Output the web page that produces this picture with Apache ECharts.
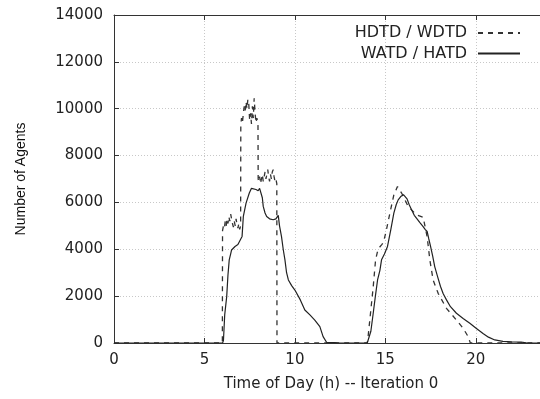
<!DOCTYPE html>
<html>
<head>
<meta charset="utf-8">
<script src="https://cdn.jsdelivr.net/npm/echarts@6/dist/echarts.min.js"></script>
<style>
html,body{margin:0;padding:0;background:#fff;overflow:hidden;}
#chart{width:540px;height:399px;}
</style>
</head>
<body>
<div id="chart"></div>
<script>
// Time of day (h) and number of agents
var hdtdTime = [0,5.99,6.0,6.05,6.1,6.15,6.2,6.25,6.3,6.35,6.4,6.45,6.5,6.55,6.6,6.65,6.7,6.75,6.8,6.85,6.9,6.95,7.0,
  7.01,7.05,7.1,7.15,7.2,7.25,7.3,7.35,7.4,7.45,7.5,7.55,7.6,7.65,7.7,7.75,7.8,7.85,7.9,7.96,
  7.97,8.0,8.05,8.1,8.15,8.2,8.25,8.3,8.35,8.4,8.45,8.5,8.55,8.6,8.65,8.7,8.75,8.8,8.85,8.9,8.95,9.0,9.01,
  14.0,14.05,14.18,14.33,14.46,14.55,14.64,14.79,14.9,15.06,15.25,15.47,15.67,15.9,16.26,16.72,17.09,17.2,17.31,17.46,17.64,17.92,18.38,18.93,19.3,19.58,19.7,24];
var hdtdAgents = [0,0,4800,5000,4900,5200,5000,5300,5100,5400,5200,5500,5300,5100,4950,5200,5000,5300,5050,4900,5100,4850,5000,
  9300,9600,9400,9800,10100,9900,10300,10000,10400,10200,9500,9800,9350,10100,9600,10450,9800,9400,9600,9300,
  7000,6900,7100,6800,7000,7200,6900,7100,7300,7000,7200,7400,7100,6900,7200,7000,7300,7400,7100,6900,7000,6800,0,
  0,300,1270,2400,3550,3850,4050,4190,4300,4830,5540,6320,6680,6400,5830,5470,5370,5350,4540,3550,2690,2120,1480,980,630,270,0,0];

var watdTime = [0,6.0,6.05,6.12,6.23,6.3,6.37,6.45,6.5,6.69,6.85,6.96,7.08,7.15,7.3,7.48,7.6,7.7,7.85,7.97,8.05,8.12,8.2,8.25,8.35,8.44,8.6,8.8,8.95,9.08,9.15,9.26,9.36,9.45,9.54,9.64,9.82,10.0,10.3,10.55,10.83,11.1,11.38,11.56,11.75,12.2,12.4,
  14.0,14.1,14.2,14.33,14.45,14.57,14.7,14.79,14.95,15.12,15.3,15.47,15.6,15.71,15.85,16.0,16.1,16.2,16.32,16.45,16.6,16.72,16.9,17.09,17.2,17.31,17.4,17.5,17.62,17.73,17.9,18.05,18.2,18.38,18.6,18.93,19.3,19.67,20.0,20.4,20.7,21.05,21.5,22.0,22.5,22.8,23.0,24];
var watdAgents = [0,0,100,1200,1980,2900,3550,3800,3970,4120,4200,4260,4550,5400,5970,6400,6600,6680,6550,6500,6600,6610,6200,5830,5550,5400,5300,5260,5300,5450,5000,4540,3970,3550,3000,2690,2450,2260,1840,1410,1200,980,700,270,30,20,0,
  0,0,500,1270,2000,2690,3100,3550,3800,4120,4830,5540,5900,6110,6250,6330,6280,6150,5900,5690,5450,5330,5150,4970,4850,4760,4450,4120,3700,3260,2800,2410,2100,1840,1550,1270,1050,840,640,410,250,130,70,50,40,10,0,0];

var xTicks = [0,5,10,15,20];
var yTicks = [0,2000,4000,6000,8000,10000,12000,14000];
var seriesNames = ['HDTD / WDTD','WATD / HATD'];

function pairs(t, v){ return t.map(function(x,i){ return [x, v[i]]; }); }

var chart = echarts.init(document.getElementById('chart'), null, {renderer:'canvas'});
var txt = {fontFamily:'DejaVu Sans', fontSize:15, color:'#222'};
var xMax = 23.55; // visible part of the 0-24 h axis (reference is cropped on the right)
chart.setOption({
  animation:false,
  backgroundColor:'#fff',
  grid:{left:114, right:0, top:15, bottom:56, containLabel:false},
  legend:{
    orient:'vertical', align:'right', right:14, top:20,
    itemWidth:42, itemHeight:14, itemGap:4.5,
    itemStyle:{opacity:0},
    textStyle:{fontFamily:'DejaVu Sans', fontSize:16, color:'#222', padding:[0,6,0,0]},
    data:seriesNames
  },
  xAxis:[{
    type:'value', min:0, max:xMax, interval:5,
    name:'Time of Day (h) -- Iteration 0', nameLocation:'middle', nameGap:34,
    nameTextStyle:{fontFamily:'DejaVu Sans', fontSize:15, color:'#222', padding:[0,0,0,8]},
    axisLine:{show:true, lineStyle:{color:'#333', width:1}},
    axisTick:{show:true, inside:true, length:5, lineStyle:{color:'#333'}},
    axisLabel:Object.assign({margin:10, showMaxLabel:false, formatter:function(v){return xTicks.indexOf(v)>=0? String(v):'';}}, txt),
    splitLine:{show:true, lineStyle:{color:'#c8c8c8', type:[1,2], width:1}}
  },{
    type:'value', min:0, max:xMax, interval:5, position:'top',
    axisLine:{show:true, lineStyle:{color:'#333', width:1}},
    axisTick:{show:true, inside:true, length:5, lineStyle:{color:'#333'}},
    axisLabel:{show:false}, splitLine:{show:false}
  }],
  yAxis:[{
    type:'value', min:0, max:14000, interval:2000,
    name:'Number of Agents', nameLocation:'middle', nameGap:86, nameRotate:90,
    nameTextStyle:{fontFamily:'Liberation Sans', fontSize:14, color:'#111'},
    axisLine:{show:true, lineStyle:{color:'#333', width:1}},
    axisTick:{show:true, inside:true, length:5, lineStyle:{color:'#333'}},
    axisLabel:Object.assign({margin:11, formatter:function(v){return yTicks.indexOf(v)>=0? String(v):'';}}, txt),
    splitLine:{show:true, lineStyle:{color:'#c8c8c8', type:[1,2], width:1}}
  }],
  series:[{
    name:seriesNames[0], type:'line', symbol:'none', xAxisIndex:0, clip:true,
    lineStyle:{color:'#333', width:1.3, type:[5,5]},
    itemStyle:{color:'#333'},
    data:pairs(hdtdTime, hdtdAgents)
  },{
    name:seriesNames[1], type:'line', symbol:'none', xAxisIndex:0, clip:true,
    lineStyle:{color:'#222', width:1.2, type:'solid'},
    itemStyle:{color:'#222'},
    data:pairs(watdTime, watdAgents)
  }]
});
</script>
</body>
</html>
